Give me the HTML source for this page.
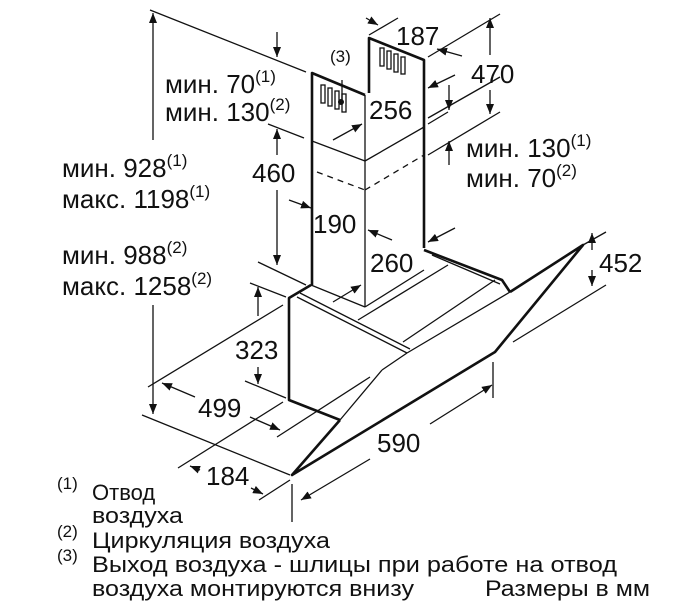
<!DOCTYPE html>
<html><head><meta charset="utf-8"><style>
html,body{margin:0;padding:0;background:#fff}
svg{display:block}
text{font-family:"Liberation Sans",sans-serif;fill:#111}
.t{font-size:26px}
.s{font-size:17px}
.f{font-size:22px}
</style></head><body>
<svg width="695" height="613" viewBox="0 0 695 613" xmlns="http://www.w3.org/2000/svg">
<defs>
<marker id="a" markerWidth="10" markerHeight="8" refX="10" refY="4" orient="auto" markerUnits="userSpaceOnUse">
<path d="M0,0 L10,4 L0,8 Z" fill="#111"/></marker>
</defs>
<g stroke="#111" fill="none" stroke-width="1.3">
<line x1="150" y1="10" x2="306" y2="72"/>
<line x1="142" y1="415" x2="290" y2="475"/>
<line x1="268" y1="124" x2="304" y2="138"/>
<line x1="258" y1="262" x2="306" y2="285"/>
<line x1="250" y1="283" x2="286" y2="297"/>
<line x1="245" y1="381" x2="286" y2="398"/>
<line x1="148" y1="387" x2="283" y2="305"/>
<line x1="277" y1="437" x2="370" y2="377"/>
<line x1="178" y1="468" x2="283" y2="402"/>
<line x1="259" y1="500" x2="290" y2="480"/>
<line x1="493" y1="362" x2="493" y2="398"/>
<line x1="292" y1="484" x2="292" y2="522"/>
<line x1="583" y1="245" x2="606" y2="232"/>
<line x1="513" y1="342" x2="606" y2="285"/>
<line x1="428" y1="57" x2="500" y2="14"/>
<line x1="428" y1="118" x2="500" y2="77"/>
<line x1="428" y1="155" x2="500" y2="112"/>
<line x1="428" y1="124" x2="448" y2="112"/>
<line x1="369" y1="35" x2="398" y2="18"/>
<line x1="153" y1="140" x2="153" y2="13" marker-end="url(#a)"/>
<line x1="153" y1="305" x2="153" y2="414" marker-end="url(#a)"/>
<line x1="277" y1="32" x2="277" y2="57" marker-end="url(#a)"/>
<line x1="277" y1="155" x2="277" y2="129" marker-end="url(#a)"/>
<line x1="277" y1="190" x2="277" y2="265" marker-end="url(#a)"/>
<line x1="258" y1="316" x2="258" y2="287" marker-end="url(#a)"/>
<line x1="258" y1="367" x2="258" y2="384" marker-end="url(#a)"/>
<line x1="195" y1="397" x2="162" y2="383" marker-end="url(#a)"/>
<line x1="250" y1="417" x2="280" y2="430" marker-end="url(#a)"/>
<line x1="200" y1="470" x2="190" y2="466" marker-end="url(#a)"/>
<line x1="251" y1="488" x2="263" y2="494" marker-end="url(#a)"/>
<line x1="430" y1="424" x2="492" y2="385" marker-end="url(#a)"/>
<line x1="370" y1="459" x2="301" y2="500" marker-end="url(#a)"/>
<line x1="592" y1="250" x2="592" y2="233" marker-end="url(#a)"/>
<line x1="592" y1="270" x2="592" y2="286" marker-end="url(#a)"/>
<line x1="490" y1="55" x2="490" y2="18" marker-end="url(#a)"/>
<line x1="490" y1="90" x2="490" y2="114" marker-end="url(#a)"/>
<line x1="366" y1="18" x2="378" y2="25" marker-end="url(#a)"/>
<line x1="462" y1="56" x2="437" y2="49" marker-end="url(#a)"/>
<line x1="333" y1="140" x2="362" y2="124" marker-end="url(#a)"/>
<line x1="455" y1="75" x2="428" y2="88" marker-end="url(#a)"/>
<line x1="289" y1="200" x2="311" y2="208" marker-end="url(#a)"/>
<line x1="392" y1="240" x2="368" y2="230" marker-end="url(#a)"/>
<line x1="333" y1="302" x2="361" y2="285" marker-end="url(#a)"/>
<line x1="455" y1="228" x2="428" y2="242" marker-end="url(#a)"/>
<line x1="449" y1="85" x2="449" y2="110" marker-end="url(#a)"/>
<line x1="449" y1="165" x2="449" y2="141" marker-end="url(#a)"/>
<line x1="342" y1="80" x2="342" y2="100"/>
<line x1="312" y1="141" x2="365" y2="161"/>
<line x1="365" y1="161" x2="424" y2="127"/>
<line x1="317" y1="172" x2="365" y2="190" stroke-dasharray="6,5"/>
<line x1="365" y1="190" x2="424" y2="155" stroke-dasharray="6,5"/>
<line x1="365" y1="95" x2="365" y2="307"/>
<line x1="311" y1="285" x2="365" y2="307"/>
<line x1="424" y1="270" x2="365" y2="307"/>
<rect x="321" y="85" width="4" height="18"/><rect x="328" y="88" width="4" height="18"/><rect x="335" y="91" width="4" height="18"/><rect x="342" y="94" width="4" height="18"/>
<rect x="380" y="48" width="4" height="18"/><rect x="387" y="51" width="4" height="18"/><rect x="394" y="54" width="4" height="18"/><rect x="401" y="57" width="4" height="17"/>
<line x1="297" y1="297" x2="407" y2="353"/>
<line x1="300" y1="293" x2="410" y2="349"/>
<line x1="358" y1="320" x2="448" y2="265"/>
<line x1="403" y1="342" x2="495" y2="280"/>
<line x1="407" y1="353" x2="510" y2="292"/>
<line x1="432" y1="255" x2="500" y2="284"/>
<line x1="340" y1="420" x2="382" y2="370"/>
<line x1="382" y1="370" x2="407" y2="353"/>
</g>
<circle cx="341" cy="102" r="3" fill="#111"/>
<g stroke="#111" fill="none" stroke-width="2.6" stroke-linejoin="round">
<polyline points="312,141 312,73 365,95"/>
<polyline points="369,93 369,38 424,60 424,248"/>
<line x1="312" y1="141" x2="312" y2="285"/>
<polyline points="311,285 289,298 289,400 340,420"/>
<polyline points="424,250 502,280 510,292"/>
<polyline points="510,292 583,245 495,352 292,475 340,420"/>
</g>
<text class="t" x="396" y="45">187</text>
<text class="t" x="471" y="83">470</text>
<text x="330" y="62" style="font-size:17px">(3)</text>
<text class="t" x="165" y="93">мин. 70<tspan class="s" dy="-11">(1)</tspan></text>
<text class="t" x="165" y="121">мин. 130<tspan class="s" dy="-11">(2)</tspan></text>
<text class="t" x="369" y="119">256</text>
<text class="t" x="252" y="182">460</text>
<text class="t" x="466" y="157">мин. 130<tspan class="s" dy="-11">(1)</tspan></text>
<text class="t" x="466" y="187">мин. 70<tspan class="s" dy="-11">(2)</tspan></text>
<text class="t" x="62" y="177">мин. 928<tspan class="s" dy="-11">(1)</tspan></text>
<text class="t" x="62" y="208">макс. 1198<tspan class="s" dy="-11">(1)</tspan></text>
<text class="t" x="313" y="233">190</text>
<text class="t" x="62" y="264">мин. 988<tspan class="s" dy="-11">(2)</tspan></text>
<text class="t" x="62" y="295">макс. 1258<tspan class="s" dy="-11">(2)</tspan></text>
<text class="t" x="370" y="272">260</text>
<text class="t" x="599" y="272">452</text>
<text class="t" x="235" y="359">323</text>
<text class="t" x="198" y="417">499</text>
<text class="t" x="377" y="452">590</text>
<text class="t" x="206" y="485">184</text>
<text class="s" x="57" y="489">(1)</text>
<text class="f" x="92" y="500">Отвод</text>
<text class="f" x="92" y="523" textLength="91" lengthAdjust="spacingAndGlyphs">воздуха</text>
<text class="s" x="57" y="537">(2)</text>
<text class="f" x="92" y="548" textLength="238" lengthAdjust="spacingAndGlyphs">Циркуляция воздуха</text>
<text class="s" x="57" y="561">(3)</text>
<text class="f" x="92" y="572" textLength="525" lengthAdjust="spacingAndGlyphs">Выход воздуха - шлицы при работе на отвод</text>
<text class="f" x="92" y="596" textLength="322" lengthAdjust="spacingAndGlyphs">воздуха монтируются внизу</text>
<text class="f" x="485" y="596" textLength="165" lengthAdjust="spacingAndGlyphs">Размеры в мм</text>
</svg>
</body></html>
